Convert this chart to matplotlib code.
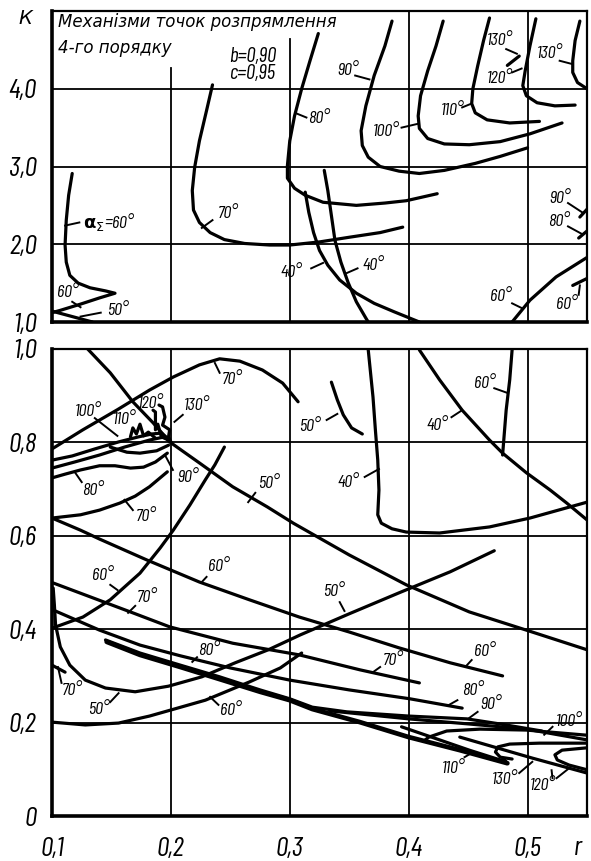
import matplotlib
matplotlib.use('Agg')
import matplotlib.pyplot as plt
from matplotlib import font_manager as fm
from matplotlib.ft2font import FT2Font

# ---------------- fonts (narrow italic, like the drafting font) ----------------
def _is_cond(f):
    st = f.stretch
    if isinstance(st, str) and 'condensed' in st:
        return True
    if isinstance(st, (int, float)) and st < 500:
        return True
    return ('Narrow' in f.name) or ('Condensed' in f.name)


def _has(path, chars):
    try:
        ft = FT2Font(path)
        return all(ft.get_char_index(ord(c)) for c in chars)
    except Exception:
        return False


_cond_it = [f for f in fm.fontManager.ttflist if _is_cond(f) and f.style in ('italic', 'oblique')]
NUM_FONT = None
for _pref in ('Barlow Condensed', 'Archivo Narrow', 'Asap Condensed'):
    if any(f.name == _pref and _has(f.fname, '0123456789,°=') for f in _cond_it):
        NUM_FONT = _pref
        break
if NUM_FONT is None:
    for f in _cond_it:
        if _has(f.fname, '0123456789,°='):
            NUM_FONT = f.name
            break
CYR_FONT = None
for f in _cond_it:
    if _has(f.fname, 'МеханізмиточокрозпрямленняпорядкуК'):
        CYR_FONT = f.name
        break

NUM_FAM = [n for n in (NUM_FONT, CYR_FONT) if n] + ['DejaVu Sans']
CYR_FAM = ([CYR_FONT] if CYR_FONT else []) + ['DejaVu Sans']
plt.rcParams['font.family'] = NUM_FAM
plt.rcParams['mathtext.fontset'] = 'dejavusans'

# ---------------- data: top panel (K vs r) ----------------
top_yticks = [1, 2, 3, 4]
top_ylabels = ['1,0', '2,0', '3,0', '4,0']

t60_x = [0.117, 0.114, 0.112, 0.111, 0.112, 0.115, 0.122, 0.132, 0.145, 0.153, 0.140, 0.124, 0.107, 0.100]
t60_y = [2.91, 2.63, 2.31, 1.99, 1.77, 1.60, 1.50, 1.44, 1.40, 1.37, 1.31, 1.23, 1.15, 1.12]
t50_x = [0.100, 0.134]
t50_y = [1.14, 1.00]
t70_x = [0.235, 0.230, 0.224, 0.220, 0.218, 0.219, 0.224, 0.233, 0.245, 0.262, 0.283, 0.300, 0.325, 0.350, 0.376, 0.395]
t70_y = [4.05, 3.72, 3.33, 2.99, 2.69, 2.44, 2.28, 2.15, 2.06, 2.01, 1.99, 1.99, 2.03, 2.09, 2.15, 2.22]
t80_x = [0.324, 0.317, 0.310, 0.304, 0.300, 0.298, 0.298, 0.304, 0.313, 0.328, 0.356, 0.380, 0.398, 0.424]
t80_y = [4.71, 4.36, 4.00, 3.65, 3.33, 3.01, 2.85, 2.72, 2.63, 2.54, 2.50, 2.53, 2.56, 2.65]
t90_x = [0.386, 0.380, 0.371, 0.364, 0.360, 0.361, 0.366, 0.376, 0.392, 0.409, 0.430, 0.456, 0.477, 0.500]
t90_y = [4.87, 4.55, 4.17, 3.78, 3.46, 3.27, 3.12, 3.00, 2.94, 2.91, 2.95, 3.04, 3.13, 3.24]
t100_x = [0.429, 0.423, 0.416, 0.410, 0.408, 0.409, 0.416, 0.430, 0.451, 0.477, 0.502, 0.529]
t100_y = [4.87, 4.55, 4.23, 3.91, 3.65, 3.49, 3.36, 3.29, 3.28, 3.32, 3.42, 3.56]
t110_x = [0.468, 0.463, 0.458, 0.454, 0.453, 0.456, 0.466, 0.485, 0.510]
t110_y = [4.91, 4.62, 4.29, 4.00, 3.81, 3.69, 3.60, 3.56, 3.58]
t120_x = [0.507, 0.502, 0.498, 0.496, 0.499, 0.508, 0.523, 0.540]
t120_y = [4.90, 4.55, 4.23, 4.04, 3.91, 3.82, 3.78, 3.79]
t130a_x = [0.483, 0.493]
t130a_y = [4.30, 4.42]
t130b_x = [0.544, 0.540, 0.538, 0.538, 0.542, 0.550]
t130b_y = [4.87, 4.62, 4.36, 4.21, 4.08, 4.00]
t40a_x = [0.329, 0.332, 0.335, 0.338, 0.343, 0.349, 0.356, 0.364, 0.366]
t40a_y = [2.95, 2.69, 2.37, 2.05, 1.77, 1.51, 1.26, 1.05, 1.00]
t40b_x = [0.313, 0.316, 0.320, 0.325, 0.332, 0.342, 0.356, 0.371, 0.388, 0.409]
t40b_y = [2.67, 2.41, 2.15, 1.92, 1.73, 1.54, 1.37, 1.24, 1.13, 1.00]
t60r_x = [0.487, 0.502, 0.524, 0.550]
t60r_y = [1.00, 1.28, 1.58, 1.83]
t60s_x = [0.538, 0.550]
t60s_y = [1.47, 1.56]
t90s_x = [0.544, 0.550]
t90s_y = [2.35, 2.45]
t80s_x = [0.543, 0.550]
t80s_y = [2.08, 2.17]

# ---------------- data: bottom panel ----------------
bot_yticks = [0, 0.2, 0.4, 0.6, 0.8, 1.0]
bot_ylabels = ['0', '0,2', '0,4', '0,6', '0,8', '1,0']
r_ticks = [0.1, 0.2, 0.3, 0.4, 0.5]
r_labels = ['0,1', '0,2', '0,3', '0,4', '0,5']

b70arch_x = [0.100, 0.126, 0.155, 0.182, 0.202, 0.224, 0.241, 0.258, 0.277, 0.294, 0.307]
b70arch_y = [0.786, 0.827, 0.870, 0.912, 0.940, 0.966, 0.979, 0.974, 0.955, 0.927, 0.887]
b50d_x = [0.130, 0.149, 0.168, 0.185, 0.199, 0.224, 0.252, 0.281, 0.303, 0.350, 0.398, 0.451, 0.499, 0.550]
b50d_y = [1.000, 0.949, 0.887, 0.842, 0.801, 0.756, 0.705, 0.662, 0.627, 0.559, 0.495, 0.437, 0.398, 0.356]
b40c_x = [0.366, 0.370, 0.372, 0.374, 0.375, 0.374, 0.377, 0.386, 0.398, 0.426, 0.468, 0.502, 0.550]
b40c_y = [0.998, 0.897, 0.827, 0.762, 0.698, 0.645, 0.627, 0.615, 0.608, 0.606, 0.619, 0.638, 0.672]
b40d_x = [0.409, 0.426, 0.445, 0.468, 0.479, 0.499, 0.519, 0.533, 0.550]
b40d_y = [0.998, 0.934, 0.869, 0.805, 0.777, 0.735, 0.698, 0.670, 0.634]
b60s_x = [0.487, 0.485, 0.482, 0.479]
b60s_y = [0.998, 0.934, 0.869, 0.773]
b50s_x = [0.335, 0.340, 0.345, 0.352, 0.361]
b50s_y = [0.929, 0.891, 0.859, 0.831, 0.818]
b80w_x = [0.100, 0.111, 0.124, 0.140, 0.153, 0.166, 0.177, 0.187, 0.197]
b80w_y = [0.724, 0.732, 0.741, 0.750, 0.750, 0.745, 0.747, 0.758, 0.777]
b70l_x = [0.100, 0.124, 0.140, 0.157, 0.170, 0.182, 0.197]
b70l_y = [0.638, 0.645, 0.655, 0.670, 0.685, 0.705, 0.737]
b60r_x = [0.101, 0.126, 0.149, 0.174, 0.191, 0.202, 0.216, 0.229, 0.237, 0.245]
b60r_y = [0.403, 0.426, 0.463, 0.520, 0.574, 0.612, 0.666, 0.720, 0.752, 0.790]
b60d_x = [0.100, 0.124, 0.140, 0.180, 0.224, 0.266, 0.308, 0.350, 0.392, 0.435, 0.479]
b60d_y = [0.638, 0.612, 0.593, 0.548, 0.501, 0.463, 0.426, 0.394, 0.360, 0.328, 0.300]
b70d_x = [0.101, 0.168, 0.199, 0.252, 0.308, 0.359, 0.409]
b70d_y = [0.499, 0.435, 0.405, 0.370, 0.345, 0.313, 0.285]
b50_x = [0.101, 0.102, 0.103, 0.107, 0.115, 0.128, 0.145, 0.170, 0.198, 0.226, 0.254, 0.282, 0.309, 0.350, 0.392, 0.435, 0.472]
b50_y = [0.488, 0.452, 0.409, 0.362, 0.323, 0.291, 0.274, 0.266, 0.278, 0.298, 0.328, 0.356, 0.388, 0.433, 0.478, 0.523, 0.568]
b60b_x = [0.100, 0.128, 0.156, 0.182, 0.200, 0.229, 0.266, 0.292, 0.310]
b60b_y = [0.201, 0.195, 0.199, 0.214, 0.227, 0.248, 0.287, 0.317, 0.349]
b70sh_x = [0.100, 0.111]
b70sh_y = [0.323, 0.308]
b80_x = [0.101, 0.140, 0.174, 0.208, 0.250, 0.300, 0.350, 0.401, 0.445]
b80_y = [0.441, 0.398, 0.366, 0.343, 0.317, 0.291, 0.270, 0.251, 0.231]
b90_x = [0.145, 0.174, 0.208, 0.241, 0.275, 0.300, 0.319, 0.348, 0.400, 0.449, 0.477, 0.512]
b90_y = [0.377, 0.349, 0.323, 0.298, 0.270, 0.251, 0.233, 0.223, 0.214, 0.208, 0.197, 0.182]
b110m_x = [0.146, 0.174, 0.208, 0.241, 0.275, 0.300, 0.319, 0.359, 0.400, 0.443, 0.483]
b110m_y = [0.373, 0.345, 0.319, 0.293, 0.266, 0.248, 0.229, 0.201, 0.169, 0.141, 0.113]
b100_x = [0.334, 0.400, 0.451, 0.499, 0.550]
b100_y = [0.225, 0.208, 0.197, 0.186, 0.163]
b110_x = [0.394, 0.426, 0.451, 0.477, 0.483, 0.480]
b110_y = [0.191, 0.163, 0.141, 0.120, 0.113, 0.122]
barc_x = [0.413, 0.417, 0.432, 0.460, 0.499, 0.550]
barc_y = [0.161, 0.169, 0.182, 0.186, 0.184, 0.173]
b130_x = [0.443, 0.504, 0.550]
b130_y = [0.169, 0.124, 0.092]
b130h_x = [0.550, 0.510, 0.485, 0.475, 0.473, 0.477, 0.487]
b130h_y = [0.156, 0.156, 0.154, 0.148, 0.137, 0.126, 0.122]
b120r_x = [0.550, 0.529, 0.523, 0.525, 0.535, 0.550]
b120r_y = [0.146, 0.141, 0.131, 0.120, 0.109, 0.099]
cla_x = [0.100, 0.117, 0.136, 0.156, 0.173, 0.184, 0.192, 0.199]
cla_y = [0.762, 0.771, 0.786, 0.801, 0.812, 0.818, 0.820, 0.805]
clb_x = [0.100, 0.119, 0.140, 0.161, 0.182, 0.195, 0.200]
clb_y = [0.745, 0.758, 0.773, 0.790, 0.805, 0.812, 0.801]
cl90_x = [0.149, 0.163, 0.174, 0.188, 0.198]
cl90_y = [0.790, 0.779, 0.777, 0.782, 0.794]
sq110_x = [0.166, 0.168, 0.171, 0.174, 0.177, 0.181, 0.187]
sq110_y = [0.812, 0.831, 0.818, 0.839, 0.814, 0.822, 0.809]
sq120_x = [0.185, 0.187, 0.187, 0.189, 0.192, 0.198]
sq120_y = [0.869, 0.865, 0.827, 0.839, 0.812, 0.805]
sq130_x = [0.190, 0.193, 0.195, 0.193, 0.199, 0.198, 0.200]
sq130_y = [0.880, 0.876, 0.854, 0.837, 0.827, 0.812, 0.801]

top_curves = [(t60_x, t60_y), (t50_x, t50_y), (t70_x, t70_y), (t80_x, t80_y), (t90_x, t90_y),
              (t100_x, t100_y), (t110_x, t110_y), (t120_x, t120_y), (t130a_x, t130a_y),
              (t130b_x, t130b_y), (t40a_x, t40a_y), (t40b_x, t40b_y), (t60r_x, t60r_y),
              (t60s_x, t60s_y), (t90s_x, t90s_y), (t80s_x, t80s_y)]
bot_curves = [(b70arch_x, b70arch_y), (b50d_x, b50d_y), (b40c_x, b40c_y), (b40d_x, b40d_y),
              (b60s_x, b60s_y), (b50s_x, b50s_y), (b80w_x, b80w_y), (b70l_x, b70l_y),
              (b60r_x, b60r_y), (b60d_x, b60d_y), (b70d_x, b70d_y), (b50_x, b50_y),
              (b60b_x, b60b_y), (b70sh_x, b70sh_y), (b80_x, b80_y), (b90_x, b90_y),
              (b100_x, b100_y), (b110_x, b110_y), (barc_x, barc_y),
              (b130_x, b130_y), (b130h_x, b130h_y), (b120r_x, b120r_y), (cla_x, cla_y), (clb_x, clb_y),
              (cl90_x, cl90_y), (sq110_x, sq110_y), (sq120_x, sq120_y), (sq130_x, sq130_y)]

# ---------------- figure ----------------
W, H = 591, 861
fig = plt.figure(figsize=(W / 100, H / 100), dpi=100)
L, R = 52, 587
ax1 = fig.add_axes([L / W, 1 - 322 / H, (R - L) / W, (322 - 11) / H])
ax2 = fig.add_axes([L / W, 1 - 816 / H, (R - L) / W, (816 - 349) / H])

NARROW = NUM_FONT is not None
TICK_FS = 20 if NARROW else 15
LAB_FS = 13 if NARROW else 10
TTL_FS = 12 if CYR_FONT else 11.5
PAR_FS = 15 if NARROW else 10.5
WT = 'normal'
CLW = 2.3
GLW = 1.3

for ax in (ax1, ax2):
    ax.set_xlim(0.1, 0.55)
    for s in ('left', 'bottom'):
        ax.spines[s].set_linewidth(2.6)
    for s in ('top', 'right'):
        ax.spines[s].set_linewidth(1.6)
    ax.tick_params(length=0)

ax1.set_ylim(1, 5)
ax2.set_ylim(0, 1)

for gx, ym in ((0.2, 0.817), (0.3, 0.910), (0.4, 1.0), (0.5, 1.0)):
    ax1.axvline(gx, ymax=ym, color='k', lw=GLW, zorder=1)
for gy in (2, 3, 4):
    ax1.axhline(gy, color='k', lw=GLW, zorder=1)
for gx in (0.2, 0.3, 0.4, 0.5):
    ax2.axvline(gx, color='k', lw=GLW, zorder=1)
for gy in (0.2, 0.4, 0.6, 0.8):
    ax2.axhline(gy, color='k', lw=GLW, zorder=1)

for cx, cy in top_curves:
    ax1.plot(cx, cy, color='k', lw=CLW, solid_capstyle='round', solid_joinstyle='round', zorder=3)
for cx, cy in bot_curves:
    ax2.plot(cx, cy, color='k', lw=CLW, solid_capstyle='round', solid_joinstyle='round', zorder=3)
# the doubled heavy branch
ax2.plot(b110m_x, b110m_y, color='k', lw=3.4, solid_capstyle='round', solid_joinstyle='round', zorder=3)

ax1.set_xticks([])
ax1.set_yticks(top_yticks)
ax1.set_yticklabels(top_ylabels, fontsize=TICK_FS, style='italic', weight=WT)
ax1.tick_params(axis='y', pad=11)
ax2.set_yticks(bot_yticks)
ax2.set_yticklabels(bot_ylabels, fontsize=TICK_FS, style='italic', weight=WT)
ax2.tick_params(axis='y', pad=11)
ax2.set_xticks(r_ticks)
ax2.set_xticklabels(r_labels, fontsize=TICK_FS, style='italic', weight=WT)
ax2.tick_params(axis='x', pad=15)

fig.text(25 / W, 1 - 18 / H, 'К', fontsize=TICK_FS - 6, style='italic', weight=WT,
         family=CYR_FAM, ha='center', va='center')
fig.text(578 / W, 1 - 848 / H, 'r', fontsize=TICK_FS, style='italic', weight=WT, ha='center', va='center')

ax1.text(0.105, 4.86, 'Механізми точок розпрямлення', fontsize=TTL_FS, style='italic', weight=WT,
         family=CYR_FAM, ha='left', va='center')
ax1.text(0.105, 4.53, '4-го порядку', fontsize=TTL_FS, style='italic', weight=WT,
         family=CYR_FAM, ha='left', va='center')
ax1.text(0.249, 4.42, 'b=0,90', fontsize=PAR_FS, style='italic', weight=WT, ha='left', va='center')
ax1.text(0.249, 4.20, 'c=0,95', fontsize=PAR_FS, style='italic', weight=WT, ha='left', va='center')


def lab(ax, s, x, y, leader=None, fs=None):
    ax.text(x, y, s, fontsize=fs or LAB_FS, style='italic', weight=WT, ha='left', va='center', zorder=4)
    if leader is not None:
        (x1, y1), (x2, y2) = leader
        ax.plot([x1, x2], [y1, y2], color='k', lw=1.4, zorder=3)


# top labels
lab(ax1, r'$\mathbf{\alpha}_{\Sigma}$=60°', 0.126, 2.29, ((0.111, 2.24), (0.123, 2.28)))
lab(ax1, '60°', 0.104, 1.38, ((0.117, 1.26), (0.124, 1.19)))
lab(ax1, '50°', 0.146, 1.15, ((0.124, 1.07), (0.141, 1.12)))
lab(ax1, '70°', 0.239, 2.40, ((0.226, 2.21), (0.235, 2.31)))
lab(ax1, '80°', 0.315, 3.62, ((0.306, 3.68), (0.314, 3.63)))
lab(ax1, '90°', 0.340, 4.24, ((0.355, 4.17), (0.367, 4.12)))
lab(ax1, '100°', 0.370, 3.45, ((0.394, 3.50), (0.408, 3.55)))
lab(ax1, '110°', 0.427, 3.72, ((0.445, 3.76), (0.453, 3.81)))
lab(ax1, '120°', 0.466, 4.13, ((0.487, 4.21), (0.495, 4.26)))
lab(ax1, '130°', 0.466, 4.62, ((0.482, 4.51), (0.491, 4.45)))
lab(ax1, '130°', 0.508, 4.45, ((0.527, 4.36), (0.537, 4.32)))
lab(ax1, '40°', 0.292, 1.64, ((0.318, 1.69), (0.328, 1.76)))
lab(ax1, '40°', 0.361, 1.73, ((0.348, 1.63), (0.357, 1.69)))
lab(ax1, '60°', 0.468, 1.33, ((0.487, 1.24), (0.495, 1.18)))
lab(ax1, '60°', 0.524, 1.23, ((0.544, 1.47), (0.543, 1.35)))
lab(ax1, '90°', 0.518, 2.59, ((0.534, 2.53), (0.546, 2.41)))
lab(ax1, '80°', 0.517, 2.29, ((0.534, 2.23), (0.546, 2.13)))

# bottom labels
lab(ax2, '70°', 0.243, 0.934, ((0.237, 0.970), (0.241, 0.949)))
lab(ax2, '100°', 0.119, 0.867, ((0.136, 0.852), (0.155, 0.814)))
lab(ax2, '110°', 0.151, 0.848)
lab(ax2, '120°', 0.172, 0.884)
lab(ax2, '130°', 0.211, 0.878, ((0.210, 0.859), (0.203, 0.844)))
lab(ax2, '90°', 0.205, 0.724, ((0.2017, 0.741), (0.195, 0.773)))
lab(ax2, '80°', 0.125, 0.698, ((0.119, 0.737), (0.125, 0.715)))
lab(ax2, '70°', 0.170, 0.642, ((0.161, 0.677), (0.168, 0.655)))
lab(ax2, '50°', 0.273, 0.713, ((0.265, 0.672), (0.271, 0.692)))
lab(ax2, '50°', 0.308, 0.833, ((0.331, 0.848), (0.340, 0.861)))
lab(ax2, '40°', 0.340, 0.715, ((0.363, 0.726), (0.375, 0.743)))
lab(ax2, '40°', 0.415, 0.837, ((0.436, 0.854), (0.445, 0.869)))
lab(ax2, '60°', 0.455, 0.927, ((0.472, 0.916), (0.483, 0.906)))
lab(ax2, '60°', 0.134, 0.514, ((0.149, 0.495), (0.155, 0.484)))
lab(ax2, '60°', 0.231, 0.535, ((0.226, 0.501), (0.230, 0.512)))
lab(ax2, '70°', 0.171, 0.467, ((0.164, 0.435), (0.170, 0.450)))
lab(ax2, '50°', 0.328, 0.480, ((0.342, 0.458), (0.346, 0.439)))
lab(ax2, '80°', 0.223, 0.355, ((0.218, 0.330), (0.222, 0.340)))
lab(ax2, '70°', 0.108, 0.268, ((0.105, 0.319), (0.108, 0.285)))
lab(ax2, '50°', 0.130, 0.227, ((0.149, 0.244), (0.156, 0.263)))
lab(ax2, '60°', 0.241, 0.225, ((0.233, 0.255), (0.240, 0.238)))
lab(ax2, '60°', 0.455, 0.353, ((0.449, 0.323), (0.453, 0.334)))
lab(ax2, '70°', 0.378, 0.332, ((0.370, 0.308), (0.376, 0.319)))
lab(ax2, '80°', 0.445, 0.268, ((0.434, 0.238), (0.441, 0.248)))
lab(ax2, '90°', 0.460, 0.238, ((0.451, 0.210), (0.458, 0.223)))
lab(ax2, '100°', 0.524, 0.203, ((0.514, 0.174), (0.521, 0.191)))
lab(ax2, '110°', 0.428, 0.101, ((0.447, 0.126), (0.453, 0.135)))
lab(ax2, '130°', 0.470, 0.079, ((0.493, 0.092), (0.504, 0.116)))
lab(ax2, '120°', 0.502, 0.066, ((0.5244, 0.081), (0.5353, 0.103)))
ax2.plot([0.5202, 0.521], [0.098, 0.081], color='k', lw=1.4, zorder=3)

fig.savefig('out.png', dpi=100)
